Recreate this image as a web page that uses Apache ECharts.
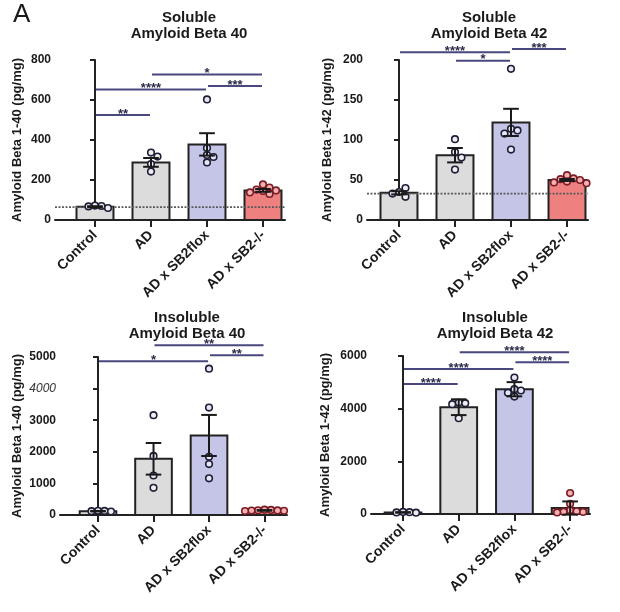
<!DOCTYPE html>
<html>
<head>
<meta charset="utf-8">
<script src="https://cdn.jsdelivr.net/npm/echarts@6.0.0/dist/echarts.min.js"></script>
<style>
html,body{margin:0;padding:0;background:#fff;}
#chart{width:620px;height:612px;}
</style>
</head>
<body>
<div id="chart"></div>
<script>
// ---------- data ----------
const categories = ['Control', 'AD', 'AD x SB2flox', 'AD x SB2-/-'];

// Soluble Amyloid Beta 40
const sol40Mean = [66, 288, 378, 148];
const sol40Sem = [3, 22, 56, 7];
const sol40Points = [[72, 70, 68, 60], [337, 317, 280, 242], [603, 360, 325, 315, 288], [178, 162, 152, 148, 145, 138, 130]];
const sol40Ref = 64;
const sol40Sig = [[0, 1, 525, '**'], [0, 2, 653, '****'], [2, 3, 670, '***'], [1, 3, 728, '*']];
const sol40Ticks = [0, 800, 200];

// Soluble Amyloid Beta 42
const sol42Mean = [34, 81, 122, 50];
const sol42Sem = [2, 9, 17, 1.2];
const sol42Points = [[35, 40, 33, 29], [101, 85, 78, 63], [189, 114, 112, 108, 88], [56, 52, 51, 50, 48, 47, 46]];
const sol42Ref = 33;
const sol42Sig = [[0, 2, 209.6, '****'], [2, 3, 213.8, '***'], [1, 2, 199, '*']];
const sol42Ticks = [0, 200, 50];

// Insoluble Amyloid Beta 40
const ins40Mean = [120, 1778, 2517, 145];
const ins40Sem = [8, 500, 650, 10];
const ins40Points = [[135, 130, 120, 110], [3160, 1870, 1250, 860], [4630, 3400, 1840, 1610, 1160], [170, 160, 150, 145, 140, 135, 125]];
const ins40Sig = [[0, 2, 4864, '*'], [1, 3, 5370, '**'], [2, 3, 5054, '**']];
const ins40Ticks = [0, 5000, 1000];

// Insoluble Amyloid Beta 42
const ins42Mean = [60, 4056, 4738, 227];
const ins42Sem = [10, 300, 270, 250];
const ins42Points = [[80, 70, 60, 50], [4230, 4207, 4170, 3640], [5180, 4740, 4690, 4600, 4460], [796, 390, 140, 100, 90, 80, 60]];
const ins42Sig = [[0, 1, 4939, '****'], [0, 2, 5507, '****'], [1, 3, 6140, '****'], [2, 3, 5760, '****']];
const ins42Ticks = [0, 6000, 2000];

const titles = ['Soluble\nAmyloid Beta 40', 'Soluble\nAmyloid Beta 42', 'Insoluble\nAmyloid Beta 40', 'Insoluble\nAmyloid Beta 42'];
const yNames = ['Amyloid Beta 1-40 (pg/mg)', 'Amyloid Beta 1-42 (pg/mg)', 'Amyloid Beta 1-40 (pg/mg)', 'Amyloid Beta 1-42 (pg/mg)'];

// ---------- layout / style ----------
const FONT = 'Liberation Sans, Arial, Helvetica, sans-serif';
const barColors = ['#dcdcdc', '#dcdcdc', '#c5c5e7', '#ef8080'];
const dotStroke = ['#1e1e38', '#1e1e38', '#1e1e38', '#7a1c26'];
const dotFill = ['#eeeeee', '#eeeeee', '#e6e6f4', '#f6b0b0'];
const sigColor = '#48487e';

const panels = [
  {mean: sol40Mean, sem: sol40Sem, pts: sol40Points, ref: sol40Ref, sig: sol40Sig, ticks: sol40Ticks,
   grid: {left: 55, top: 60, width: 230, height: 160}, xr: [-0.714, 3.393], nameGap: 31, title: [184, 5]},
  {mean: sol42Mean, sem: sol42Sem, pts: sol42Points, ref: sol42Ref, sig: sol42Sig, ticks: sol42Ticks,
   grid: {left: 367, top: 60, width: 221, height: 160}, xr: [-0.571, 3.375], nameGap: 33, title: [484, 5]},
  {mean: ins40Mean, sem: ins40Sem, pts: ins40Points, ref: null, sig: ins40Sig, ticks: ins40Ticks,
   grid: {left: 60, top: 357, width: 227, height: 158}, xr: [-0.685, 3.405], nameGap: 36, title: [182, 305]},
  {mean: ins42Mean, sem: ins42Sem, pts: ins42Points, ref: null, sig: ins42Sig, ticks: ins42Ticks,
   grid: {left: 371, top: 356, width: 219, height: 158}, xr: [-0.575, 3.357], nameGap: 39, title: [490, 305]}
];

const grids = [], xAxes = [], yAxes = [], series = [], titleOpts = [];

panels.forEach((p, k) => {
  grids.push(Object.assign({outerBoundsMode: 'none', containLabel: false}, p.grid));
  titleOpts.push({
    text: titles[k], left: p.title[0], top: p.title[1], textAlign: 'center',
    textStyle: {fontFamily: FONT, fontSize: 15, fontWeight: 'bold', lineHeight: 16, color: '#1a1a1a'}
  });
  xAxes.push({
    type: 'value', gridIndex: k, min: p.xr[0], max: p.xr[1],
    splitLine: {show: false},
    axisLine: {show: true, lineStyle: {color: '#222', width: 2}},
    axisTick: {show: true, customValues: [0, 1, 2, 3], length: 7, lineStyle: {color: '#222', width: 2}},
    axisLabel: {
      show: true, customValues: [0, 1, 2, 3], rotate: 45, margin: 13,
      formatter: v => categories[Math.round(v)] || '',
      fontFamily: FONT, fontSize: 14, fontWeight: 'bold', color: '#1a1a1a'
    }
  });
  yAxes.push({
    type: 'value', gridIndex: k, min: p.ticks[0], max: p.ticks[1], interval: p.ticks[2],
    name: yNames[k], nameLocation: 'middle', nameGap: p.nameGap, nameRotate: 90,
    nameTextStyle: {fontFamily: FONT, fontSize: 13, fontWeight: 'bold', color: '#1a1a1a'},
    splitLine: {show: false},
    axisLine: {show: true, lineStyle: {color: '#222', width: 2}},
    axisTick: {show: true, length: 5, lineStyle: {color: '#222', width: 2}},
    axisLabel: {
      margin: 4, fontFamily: FONT, fontSize: 12, fontWeight: 'bold', color: '#1a1a1a',
      formatter: v => (k === 2 && v === 4000) ? '{i|' + v + '}' : String(v),
      rich: {i: {fontFamily: FONT, fontSize: 12, fontStyle: 'italic', fontWeight: 'normal', color: '#333'}}
    }
  });

  const barData = categories.map((c, i) => [i, p.mean[i], p.sem[i]]);

  // bars
  series.push({
    type: 'custom', xAxisIndex: k, yAxisIndex: k, z: 2,
    data: barData, encode: {x: 0, y: 1},
    renderItem: (params, api) => {
      const i = api.value(0), m = api.value(1);
      const base = api.coord([i, 0]), top = api.coord([i, m]);
      const w = api.size([0.66, 0])[0];
      return {type: 'rect', shape: {x: base[0] - w / 2, y: top[1], width: w, height: base[1] - top[1]},
        style: {fill: barColors[i], stroke: '#222', lineWidth: 2}};
    }
  });

  // reference (control level) line
  if (p.ref !== null) {
    series.push({
      type: 'custom', xAxisIndex: k, yAxisIndex: k, z: 3,
      data: [[0, p.ref]], encode: {x: 0, y: 1},
      renderItem: (params, api) => {
        const cs = params.coordSys;
        const y = api.coord([0, api.value(1)])[1];
        return {type: 'line', shape: {x1: cs.x, y1: y, x2: cs.x + cs.width, y2: y},
          style: {stroke: '#5a5a5a', lineWidth: 1.8, lineDash: [2, 1.5]}};
      }
    });
  }

  // individual points (beeswarm placement)
  series.push({
    type: 'custom', xAxisIndex: k, yAxisIndex: k, z: 4,
    data: barData, encode: {x: 0, y: 1},
    renderItem: (params, api) => {
      const i = api.value(0);
      const cx = api.coord([i, 0])[0];
      const placed = [], children = [];
      const step = 6.5, minD = 6.4;
      p.pts[i].forEach(v => {
        const y = api.coord([i, v])[1];
        let x = cx;
        for (let t = 0; t < 11; t++) {
          const off = t === 0 ? 0 : (t % 2 ? 1 : -1) * Math.ceil(t / 2) * step;
          const tx = cx + off;
          if (placed.every(q => Math.hypot(q[0] - tx, q[1] - y) >= minD)) { x = tx; break; }
        }
        placed.push([x, y]);
        children.push({type: 'circle', shape: {cx: x, cy: y, r: 3.3},
          style: {fill: dotFill[i], stroke: dotStroke[i], lineWidth: 1.6}});
      });
      return {type: 'group', children: children};
    }
  });

  // error bars (SEM)
  series.push({
    type: 'custom', xAxisIndex: k, yAxisIndex: k, z: 5,
    data: barData, encode: {x: 0, y: 1},
    renderItem: (params, api) => {
      const i = api.value(0), m = api.value(1), s = api.value(2);
      const hi = api.coord([i, m + s]), lo = api.coord([i, m - s]);
      const cw = api.size([0.28, 0])[0] / 2;
      const st = {stroke: '#1a1a1a', lineWidth: 2};
      return {type: 'group', children: [
        {type: 'line', shape: {x1: hi[0], y1: hi[1], x2: lo[0], y2: lo[1]}, style: st},
        {type: 'line', shape: {x1: hi[0] - cw, y1: hi[1], x2: hi[0] + cw, y2: hi[1]}, style: st},
        {type: 'line', shape: {x1: lo[0] - cw, y1: lo[1], x2: lo[0] + cw, y2: lo[1]}, style: st}
      ]};
    }
  });

  // significance brackets
  series.push({
    type: 'custom', xAxisIndex: k, yAxisIndex: k, z: 6, clip: false,
    data: p.sig.map(s => [s[0], s[2]]), encode: {x: 0, y: 1},
    renderItem: (params, api) => {
      const s = p.sig[params.dataIndex];
      const a = api.coord([s[0], s[2]]), b = api.coord([s[1], s[2]]);
      return {type: 'group', children: [
        {type: 'line', shape: {x1: a[0] + 1, y1: a[1], x2: b[0] - 1, y2: b[1]},
          style: {stroke: sigColor, lineWidth: 2}},
        {type: 'text', x: (a[0] + b[0]) / 2, y: a[1] - 1,
          style: {text: s[3], fill: '#2a2a4a', font: 'bold 13px ' + FONT, align: 'center', verticalAlign: 'middle'}}
      ]};
    }
  });
});

const chart = echarts.init(document.getElementById('chart'), null, {renderer: 'canvas'});
chart.setOption({
  backgroundColor: '#ffffff',
  animation: false,
  title: titleOpts,
  grid: grids,
  xAxis: xAxes,
  yAxis: yAxes,
  series: series,
  graphic: [{type: 'text', left: 13, top: 2, style: {text: 'A', font: '26px ' + FONT, fill: '#1a1a1a'}}]
});
</script>
</body>
</html>
